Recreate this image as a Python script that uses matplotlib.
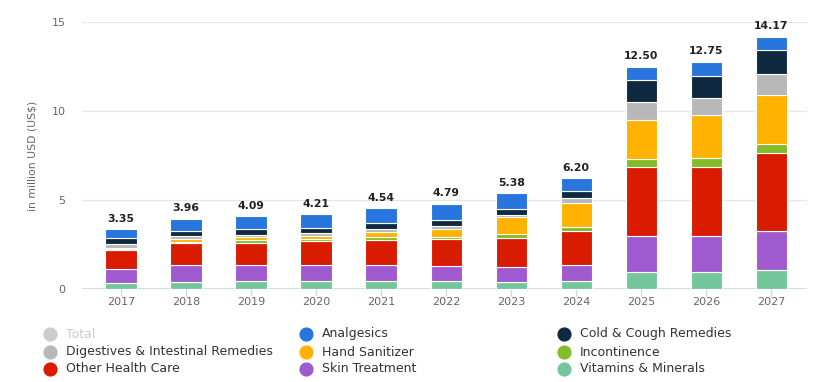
import matplotlib
matplotlib.use("Agg")
import matplotlib.pyplot as plt
import numpy as np

years = ["2017", "2018", "2019", "2020", "2021", "2022", "2023", "2024", "2025", "2026", "2027"]
totals = [3.35, 3.96, 4.09, 4.21, 4.54, 4.79, 5.38, 6.20, 12.50, 12.75, 14.17]

vitamins = [0.33, 0.40, 0.44, 0.43, 0.43, 0.44, 0.38, 0.44, 0.98, 0.98, 1.04]
skin = [0.80, 0.96, 0.93, 0.93, 0.92, 0.87, 0.87, 0.92, 1.99, 1.99, 2.22]
other = [1.05, 1.20, 1.24, 1.31, 1.42, 1.51, 1.63, 1.88, 3.90, 3.90, 4.36]
incontinence = [0.06, 0.10, 0.13, 0.16, 0.13, 0.12, 0.21, 0.26, 0.43, 0.48, 0.50]
hand = [0.07, 0.16, 0.16, 0.14, 0.28, 0.45, 0.94, 1.35, 2.21, 2.42, 2.80]
digestives = [0.22, 0.13, 0.14, 0.15, 0.18, 0.16, 0.15, 0.28, 0.97, 0.98, 1.15]
cold = [0.34, 0.29, 0.32, 0.33, 0.34, 0.35, 0.31, 0.37, 1.25, 1.24, 1.37]
analgesics = [0.48, 0.72, 0.74, 0.75, 0.85, 0.88, 0.89, 0.71, 0.76, 0.76, 0.73]

stack_names = ["Vitamins & Minerals", "Skin Treatment", "Other Health Care", "Incontinence",
               "Hand Sanitizer", "Digestives & Intestinal Remedies", "Cold & Cough Remedies", "Analgesics"]
stack_values = [vitamins, skin, other, incontinence, hand, digestives, cold, analgesics]
colors = {
    "Total": "#cccccc",
    "Analgesics": "#2876dd",
    "Cold & Cough Remedies": "#0f2a40",
    "Digestives & Intestinal Remedies": "#b8b8b8",
    "Hand Sanitizer": "#ffb300",
    "Incontinence": "#84bb29",
    "Other Health Care": "#d91c00",
    "Skin Treatment": "#a05ad0",
    "Vitamins & Minerals": "#74c79b",
}
legend_order = ["Total", "Analgesics", "Cold & Cough Remedies",
                "Digestives & Intestinal Remedies", "Hand Sanitizer", "Incontinence",
                "Other Health Care", "Skin Treatment", "Vitamins & Minerals"]

plt.rcParams['font.family'] = ['DejaVu Sans']

W, H = 816, 382
fig = plt.figure(figsize=(W / 100, H / 100), dpi=100)
ax = fig.add_axes([82 / W, 1 - 289 / H, (807 - 82) / W, (289 - 22) / H])

x = np.arange(len(years))
bottom = np.zeros(len(years))
for name, vals in zip(stack_names, stack_values):
    v = np.array(vals)
    ax.bar(x, v, width=0.48, bottom=bottom, color=colors[name], edgecolor="white",
           linewidth=0.8, zorder=3)
    bottom += v

for xi, t in zip(x, totals):
    ax.annotate(f"{t:.2f}", (xi, t), xytext=(0, 4), textcoords="offset points",
                ha="center", va="bottom", fontsize=7.8, fontweight="bold", color="#222222")

ax.set_xlim(-0.6, 10.55)
ax.set_ylim(0, 15)
ax.set_yticks([0, 5, 10, 15])
ax.set_xticks(x)
ax.set_xticklabels(years)
for s in ax.spines.values():
    s.set_visible(False)
ax.grid(axis="y", color="#e6e6e6", linewidth=1, zorder=0)
ax.axhline(0, color="#ccd6eb", linewidth=1.2, zorder=2)
ax.tick_params(axis="y", length=0, pad=12, labelsize=8, labelcolor="#666666")
ax.tick_params(axis="x", length=5, width=1, color="#ccd6eb", pad=1, labelsize=8, labelcolor="#666666")
ax.set_ylabel("in million USD (US$)", fontsize=7.8, color="#666666", labelpad=10)

# legend
lax = fig.add_axes([0, 0, 1, 1])
lax.set_xlim(0, W)
lax.set_ylim(H, 0)
lax.axis("off")
col_x = [50, 306, 564]
row_y = [334, 352, 369]
for i, name in enumerate(legend_order):
    r, c = divmod(i, 3)
    lax.scatter([col_x[c]], [row_y[r]], s=85, color=colors[name], zorder=3)
    tc = "#cccccc" if name == "Total" else "#333333"
    lax.text(col_x[c] + 16, row_y[r], name, fontsize=9, color=tc, va="center", ha="left")

fig.savefig("out.png", dpi=100)
